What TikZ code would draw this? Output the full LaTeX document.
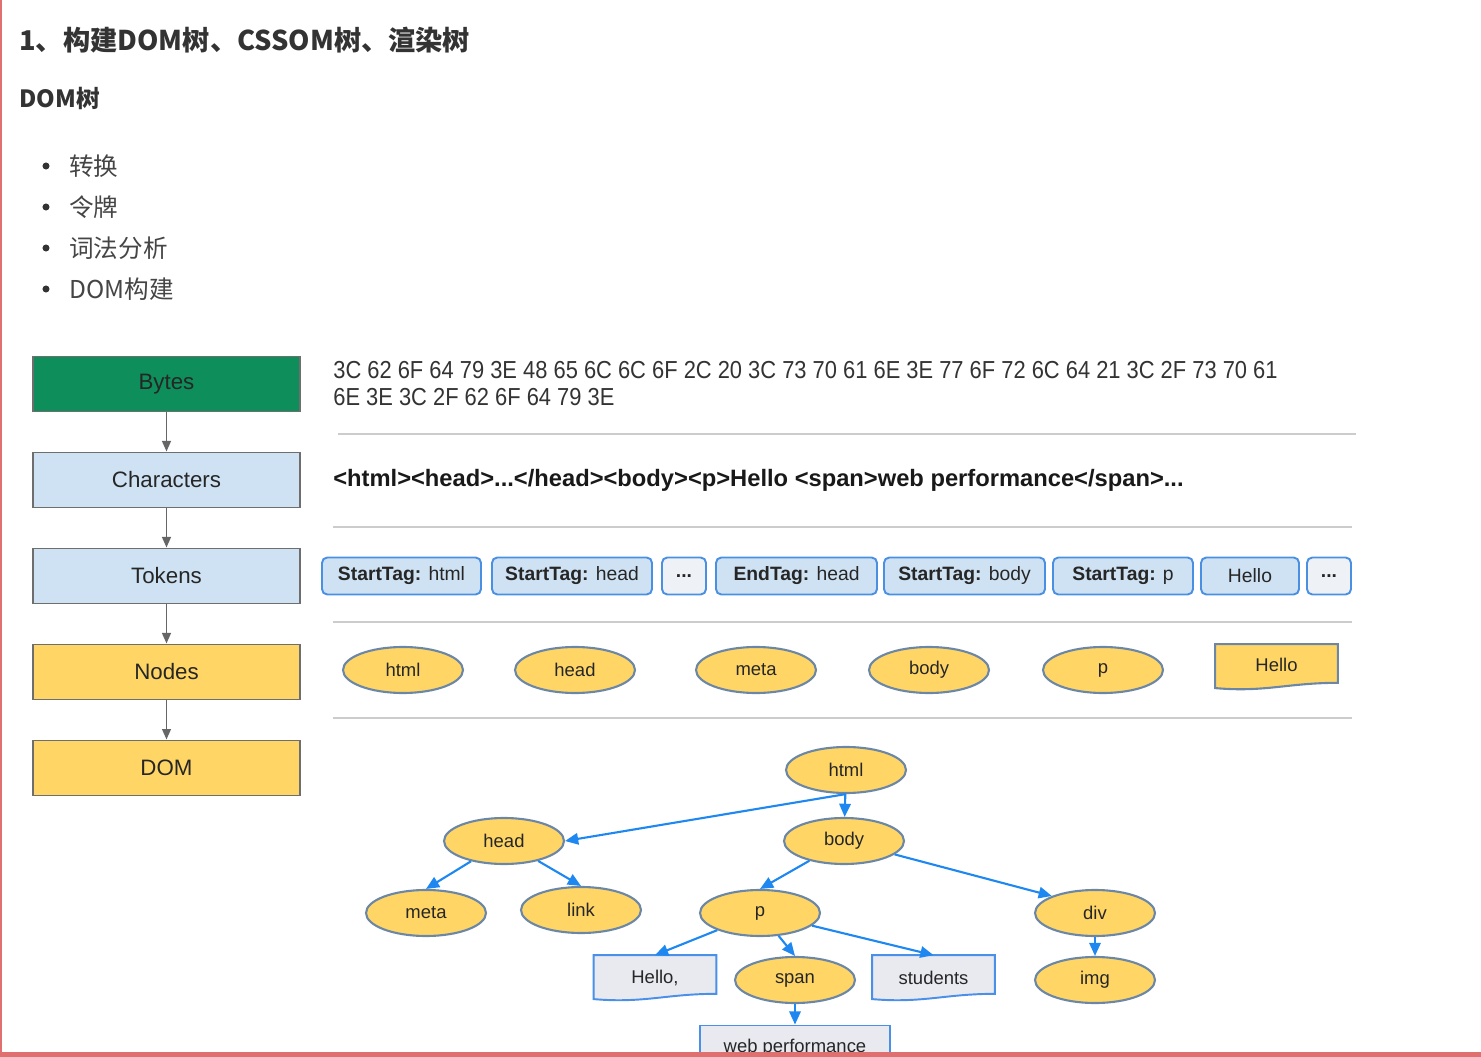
\documentclass[tikz,border=0pt]{standalone}
\usepackage{fontspec}
\usepackage{graphicx}
\setmainfont{Liberation Sans}
\newfontfamily\cjk{Noto Sans CJK SC}
\usetikzlibrary{arrows.meta,shapes.geometric,backgrounds}

\definecolor{titledark}{HTML}{333333}
\definecolor{bullettext}{HTML}{454545}
\definecolor{bytesgreen}{HTML}{0E8E5A}
\definecolor{charblue}{HTML}{CFE2F3}
\definecolor{nodeyellow}{HTML}{FFD666}
\definecolor{boxgray}{HTML}{6E6E6E}
\definecolor{arrowgray}{HTML}{666666}
\definecolor{tagblue}{HTML}{4A90E2}
\definecolor{dotgray}{HTML}{EEF1F6}
\definecolor{ellipseedge}{HTML}{6C87A5}
\definecolor{docgray}{HTML}{E8EAF0}
\definecolor{docblue}{HTML}{4A8FE8}
\definecolor{treeblue}{HTML}{1E88F0}
\definecolor{sepgray}{HTML}{CCCCCC}
\definecolor{framepink}{HTML}{E07070}

% wavy bottom outline behind a text node
\newcommand\docoutline[2]{%
  \begin{scope}[on background layer]
    \draw[#2] (#1.north west) -- (#1.north east) -- ([yshift=4pt]#1.south east)
      .. controls ([xshift=-1cm,yshift=4pt]#1.south east) and ([xshift=1cm,yshift=-1.5pt]#1.south west) .. ([yshift=1pt]#1.south west) -- cycle;
  \end{scope}}

\begin{document}
\begin{tikzpicture}[x=0.02cm,y=-0.02cm,
    flowbox/.style={draw=boxgray,line width=1.1pt,minimum width=5.34cm,minimum height=1.1cm,
      font=\fontsize{12.7}{15}\selectfont,text=black!85},
    flowarrow/.style={draw=arrowgray,line width=1pt,-{Triangle[length=6pt,width=5pt]}},
    tagbox/.style={draw=tagblue,line width=1.1pt,fill=charblue,rounded corners=3pt,
      minimum height=0.74cm,inner sep=0pt,font=\fontsize{11}{13}\selectfont,text=black!85},
    elem/.style={ellipse,draw=ellipseedge,line width=1.2pt,fill=nodeyellow,minimum width=2.4cm,
      minimum height=0.92cm,inner sep=0pt,font=\fontsize{10.5}{12}\selectfont,text=black!85},
    textbox/.style={minimum width=2.44cm,minimum height=0.9cm,inner sep=0pt,
      font=\fontsize{10.5}{12}\selectfont,text=black!85},
    treearrow/.style={draw=treeblue,line width=1.2pt,-{Triangle[length=7.5pt,width=6.5pt]}},
    sepline/.style={draw=sepgray,line width=1.2pt}]

  \clip (0,0) rectangle (1481,1057);

  % headings
  \node[anchor=west,inner sep=0pt,text=titledark,font={\cjk\bfseries\fontsize{15.5}{18}\selectfont}] (title) at (19,40) {1、构建DOM树、CSSOM树、渲染树};
  \node[anchor=west,inner sep=0pt,text=titledark,font={\cjk\bfseries\fontsize{13.5}{16}\selectfont}] (subtitle) at (19,98) {DOM树};
  \foreach \txt [count=\i] in {转换,令牌,词法分析,DOM构建} {
    \fill[titledark] (46,125+41*\i) circle (2pt);
    \node[anchor=west,inner sep=0pt,text=bullettext,font={\cjk\fontsize{14}{16}\selectfont}] (bullet\i) at (69,125+41*\i) {\txt};
  }

  % pipeline
  \node[flowbox,fill=bytesgreen] (bytes) at (166.5,384) {Bytes};
  \node[flowbox,fill=charblue] (chars) at (166.5,480) {Characters};
  \node[flowbox,fill=charblue] (tokens) at (166.5,576) {Tokens};
  \node[flowbox,fill=nodeyellow] (nodes) at (166.5,672) {Nodes};
  \node[flowbox,fill=nodeyellow] (dom) at (166.5,768) {DOM};
  \foreach \a/\b in {bytes/chars,chars/tokens,tokens/nodes,nodes/dom}
    \draw[flowarrow] (\a) -- (\b);

  % bytes and characters
  \node[anchor=west,inner sep=0pt,text=titledark,font=\fontsize{14}{16}\selectfont] (hexa) at (333,370)
    {\scalebox{0.89}[1]{3C 62 6F 64 79 3E 48 65 6C 6C 6F 2C 20 3C 73 70 61 6E 3E 77 6F 72 6C 64 21 3C 2F 73 70 61}};
  \node[anchor=west,inner sep=0pt,text=titledark,font=\fontsize{14}{16}\selectfont] (hexb) at (333,397)
    {\scalebox{0.89}[1]{6E 3E 3C 2F 62 6F 64 79 3E}};
  \node[anchor=west,inner sep=0pt,text=black!90,font=\bfseries\fontsize{13.5}{15}\selectfont] (markup) at (333,480)
    {<html><head>...</head><body><p>Hello <span>web performance</span>...};

  \draw[sepline] (338,434) -- (1356,434);
  \draw[sepline] (333,527) -- (1352,527);
  \draw[sepline] (333,622) -- (1352,622);
  \draw[sepline] (333,718) -- (1352,718);

  % tokens
  \node[tagbox,minimum width=3.18cm] (tok1) at (401.5,576) {\textbf{StartTag:} html};
  \node[tagbox,minimum width=3.2cm] (tok2) at (572,576) {\textbf{StartTag:} head};
  \node[tagbox,fill=dotgray,minimum width=0.88cm] (tok3) at (684,576) {\textbf{...}};
  \node[tagbox,minimum width=3.22cm] (tok4) at (796.5,576) {\textbf{EndTag:} head};
  \node[tagbox,minimum width=3.22cm] (tok5) at (964.5,576) {\textbf{StartTag:} body};
  \node[tagbox,minimum width=2.8cm] (tok6) at (1123,576) {\textbf{StartTag:} p};
  \node[tagbox,minimum width=1.96cm] (tok7) at (1250,576) {Hello};
  \node[tagbox,fill=dotgray,minimum width=0.88cm] (tok8) at (1329,576) {\textbf{...}};

  % nodes
  \foreach \name/\x in {html/403,head/575,meta/756,body/929,p/1103}
    \node[elem] (n-\name) at (\x,670) {\name};
  \node[textbox,text depth=2pt] (n-hello) at (1276.5,667) {Hello};
  \docoutline{n-hello}{draw=ellipseedge,line width=1.2pt,fill=nodeyellow}

  % DOM tree
  \node[elem] (html) at (846,770) {html};
  \node[elem] (head) at (504,841) {head};
  \node[elem] (body) at (844,841) {body};
  \node[elem] (meta) at (426,913) {meta};
  \node[elem] (link) at (581,910) {link};
  \node[elem] (p) at (760,913) {p};
  \node[elem] (div) at (1095,913) {div};
  \node[elem] (span) at (795,980) {span};
  \node[elem] (img) at (1095,980) {img};
  \node[textbox] (hellotxt) at (655,978) {Hello,};
  \node[textbox] (students) at (933.5,978) {students};
  \node[draw=docblue,line width=1.1pt,fill=docgray,minimum width=3.8cm,minimum height=0.9cm,
    font=\fontsize{10.5}{12}\selectfont,text=black!85] (webperf) at (795,1048) {web performance};
  \docoutline{hellotxt}{draw=docblue,line width=1.1pt,fill=docgray}
  \docoutline{students}{draw=docblue,line width=1.1pt,fill=docgray}

  \draw[treearrow] (html.south) -- (head.east);
  \draw[treearrow] (html) -- (body);
  \draw[treearrow] (head) -- (meta.north);
  \draw[treearrow] (head) -- (link.north);
  \draw[treearrow] (body) -- (p.north);
  \draw[treearrow] (body) -- (div.north west);
  \draw[treearrow] (p) -- (hellotxt.north);
  \draw[treearrow] (p) -- (span.north);
  \draw[treearrow] (p) -- (students.north);
  \draw[treearrow] (span) -- (webperf);
  \draw[treearrow] (div) -- (img);

  % page edges
  \fill[framepink] (0,0) rectangle (2,1057);
  \fill[framepink] (0,1052) rectangle (1481,1057);
\end{tikzpicture}
\end{document}
